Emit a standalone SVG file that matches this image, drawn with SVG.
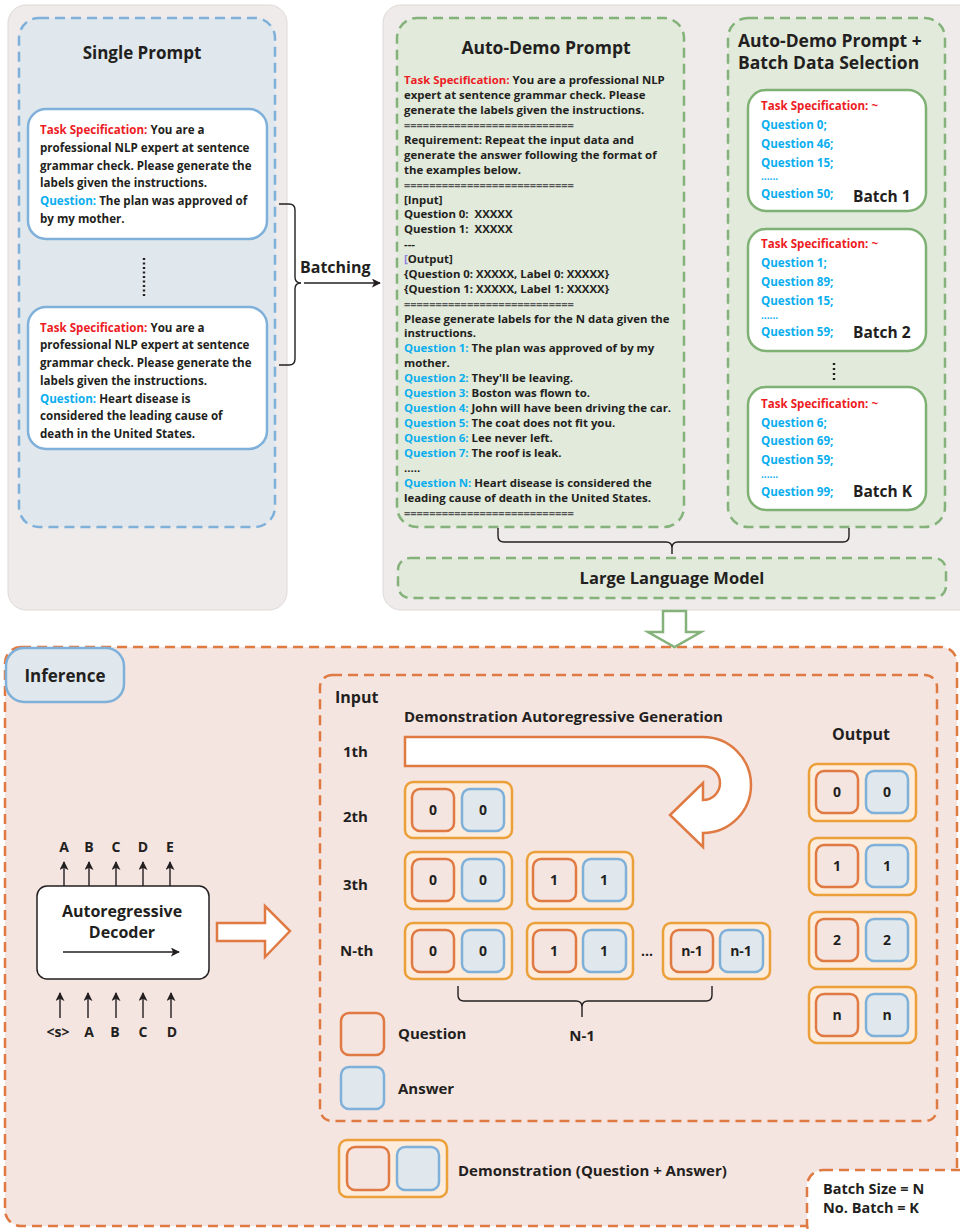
<svg xmlns="http://www.w3.org/2000/svg" width="960" height="1229" viewBox="0 0 960 1229">
<defs>
<style>
text{font-family:"Open Sans","Noto Sans","Liberation Sans",sans-serif;font-weight:700;fill:#231F20}
.panel{fill:#EEEBEA;stroke:#DEDAD8;stroke-width:1}
.bdash{fill:#E1E8ED;stroke:#7EB0DA;stroke-width:2.5;stroke-dasharray:10 6}
.gdash{fill:#E1EADB;stroke:#84B27A;stroke-width:2.5;stroke-dasharray:10 6}
.odash{fill:#F5E5E1;stroke:#E07A43;stroke-width:2.5;stroke-dasharray:10 6}
.bbox{fill:#fff;stroke:#7EB0DA;stroke-width:2.5}
.gbox{fill:#fff;stroke:#80B174;stroke-width:2.5}
.dg{fill:#FDEBDB;stroke:#EBA03A;stroke-width:2.5}
.q{fill:#F5E5E1;stroke:#E07A43;stroke-width:2.5}
.a{fill:#E1E8ED;stroke:#7EB0DA;stroke-width:2.5}
.red{fill:#ED1C24}
.blu{fill:#0AAEEF}
.t11{font-size:11.4px}
.t115{font-size:11.6px}
.dots{font-size:10px}
.num{font-size:14px;text-anchor:middle}
.lbl{font-size:15px}
.ln{fill:none;stroke:#231F20;stroke-width:1.4}
.eq{fill:#555;font-size:11px}
</style>
<marker id="ah" viewBox="0 0 10 10" refX="9" refY="5" markerWidth="9" markerHeight="9" markerUnits="userSpaceOnUse" orient="auto">
<path d="M0,0 L10,5 L0,10 L2.5,5 Z" fill="#231F20"/>
</marker>
</defs>

<!-- panels -->
<rect class="panel" x="8" y="5" width="279" height="605" rx="18"/>
<rect class="panel" x="383" y="5" width="600" height="605" rx="18"/>

<g id="single-prompt">
<rect class="bdash" x="19" y="18" width="256" height="509" rx="20"/>
<text x="142" y="59" font-size="17" text-anchor="middle">Single Prompt</text>
</g>

<g id="prompt-1">
<rect class="bbox" x="28" y="109" width="239" height="130" rx="18"/>
<text class="t115" x="40" y="134"><tspan class="red">Task Specification: </tspan>You are a</text>
<text class="t115" x="40" y="152">professional NLP expert at sentence</text>
<text class="t115" x="40" y="170">grammar check. Please generate the</text>
<text class="t115" x="40" y="187">labels given the instructions.</text>
<text class="t115" x="40" y="205"><tspan class="blu">Question: </tspan>The plan was approved of</text>
<text class="t115" x="40" y="223">by my mother.</text>
</g>

<line x1="144" y1="258" x2="144" y2="297" stroke="#231F20" stroke-width="2.4" stroke-dasharray="2 2.5"/>

<g id="prompt-2">
<rect class="bbox" x="28" y="307" width="239" height="142" rx="18"/>
<text class="t115" x="40" y="332"><tspan class="red">Task Specification: </tspan>You are a</text>
<text class="t115" x="40" y="349">professional NLP expert at sentence</text>
<text class="t115" x="40" y="367">grammar check. Please generate the</text>
<text class="t115" x="40" y="385">labels given the instructions.</text>
<text class="t115" x="40" y="403"><tspan class="blu">Question: </tspan>Heart disease is</text>
<text class="t115" x="40" y="420">considered the leading cause of</text>
<text class="t115" x="40" y="438">death in the United States.</text>
</g>

<g id="auto-demo-prompt">
<rect class="gdash" x="397" y="18" width="287" height="509" rx="20"/>
<text x="546" y="54" font-size="17.5" text-anchor="middle">Auto-Demo Prompt</text>
<text class="t11" x="404" y="84"><tspan class="red">Task Specification: </tspan>You are a professional NLP</text>
<text class="t11" x="404" y="99">expert at sentence grammar check. Please</text>
<text class="t11" x="404" y="114">generate the labels given the instructions.</text>
<text class="eq" x="404" y="129">===========================</text>
<text class="t11" x="404" y="144">Requirement: Repeat the input data and</text>
<text class="t11" x="404" y="159">generate the answer following the format of</text>
<text class="t11" x="404" y="174">the examples below.</text>
<text class="eq" x="404" y="189">===========================</text>
<text class="t11" x="404" y="204">[Input]</text>
<text class="t11" x="404" y="218">Question 0:&#160; XXXXX</text>
<text class="t11" x="404" y="233">Question 1:&#160; XXXXX</text>
<text class="t11" x="404" y="248">---</text>
<text class="t11" x="404" y="263"><tspan fill="#8B7FE0">[</tspan>Output]</text>
<text class="t11" x="404" y="278">{Question 0: XXXXX, Label 0: XXXXX}</text>
<text class="t11" x="404" y="293">{Question 1: XXXXX, Label 1: XXXXX}</text>
<text class="eq" x="404" y="308">===========================</text>
<text class="t11" x="404" y="323">Please generate labels for the N data given the</text>
<text class="t11" x="404" y="337">instructions.</text>
<text class="t11" x="404" y="352"><tspan class="blu">Question 1: </tspan>The plan was approved of by my</text>
<text class="t11" x="404" y="367">mother.</text>
<text class="t11" x="404" y="382"><tspan class="blu">Question 2: </tspan>They'll be leaving.</text>
<text class="t11" x="404" y="397"><tspan class="blu">Question 3: </tspan>Boston was flown to.</text>
<text class="t11" x="404" y="412"><tspan class="blu">Question 4: </tspan>John will have been driving the car.</text>
<text class="t11" x="404" y="427"><tspan class="blu">Question 5: </tspan>The coat does not fit you.</text>
<text class="t11" x="404" y="442"><tspan class="blu">Question 6: </tspan>Lee never left.</text>
<text class="t11" x="404" y="457"><tspan class="blu">Question 7: </tspan>The roof is leak.</text>
<text class="t11" x="404" y="472">.....</text>
<text class="t11" x="404" y="487"><tspan class="blu">Question N: </tspan>Heart disease is considered the</text>
<text class="t11" x="404" y="502">leading cause of death in the United States.</text>
<text class="eq" x="404" y="517">===========================</text>
</g>

<g id="batch-selection">
<rect class="gdash" x="728" y="18" width="217" height="509" rx="20"/>
<text x="738" y="47" font-size="17.5">Auto-Demo Prompt +</text>
<text x="738" y="69" font-size="17.5">Batch Data Selection</text>
</g>

<g id="batch-1">
<rect class="gbox" x="748" y="90" width="178" height="121" rx="18"/>
<text class="t115 red" x="761" y="110">Task Specification: ~</text>
<text class="t115 blu" x="761" y="129">Question 0;</text>
<text class="t115 blu" x="761" y="148">Question 46;</text>
<text class="t115 blu" x="761" y="167">Question 15;</text>
<text class="dots blu" x="761" y="180">......</text>
<text class="t115 blu" x="761" y="198">Question 50;</text>
<text x="853" y="202" font-size="15.5">Batch 1</text>
</g>

<g id="batch-2">
<rect class="gbox" x="748" y="229" width="178" height="122" rx="18"/>
<text class="t115 red" x="761" y="248">Task Specification: ~</text>
<text class="t115 blu" x="761" y="267">Question 1;</text>
<text class="t115 blu" x="761" y="286">Question 89;</text>
<text class="t115 blu" x="761" y="305">Question 15;</text>
<text class="dots blu" x="761" y="319">......</text>
<text class="t115 blu" x="761" y="336">Question 59;</text>
<text x="853" y="338" font-size="15.5">Batch 2</text>
</g>

<line x1="834" y1="363" x2="834" y2="381" stroke="#231F20" stroke-width="2.4" stroke-dasharray="2 3"/>

<g id="batch-k">
<rect class="gbox" x="748" y="387" width="178" height="123" rx="18"/>
<text class="t115 red" x="761" y="408">Task Specification: ~</text>
<text class="t115 blu" x="761" y="427">Question 6;</text>
<text class="t115 blu" x="761" y="445">Question 69;</text>
<text class="t115 blu" x="761" y="464">Question 59;</text>
<text class="dots blu" x="761" y="478">......</text>
<text class="t115 blu" x="761" y="496">Question 99;</text>
<text x="853" y="497" font-size="15.5">Batch K</text>
</g>

<g id="llm">
<rect class="gdash" x="398" y="558" width="548" height="40" rx="12"/>
<text x="672" y="584" font-size="16.5" text-anchor="middle">Large Language Model</text>
</g>

<!-- inference -->
<g id="inference">
<rect class="odash" x="5" y="647" width="952" height="579" rx="16"/>
<rect x="6" y="648" width="118" height="54" rx="18" fill="#E1E8ED" stroke="#7EB0DA" stroke-width="2.5"/>
<text x="65" y="682" font-size="17" text-anchor="middle">Inference</text>
</g>

<g id="decoder">
<rect x="37" y="886" width="172" height="93" rx="10" fill="#fff" stroke="#231F20" stroke-width="1.5"/>
<text x="122" y="917" font-size="16" text-anchor="middle">Autoregressive</text>
<text x="122" y="938" font-size="16" text-anchor="middle">Decoder</text>
<text font-size="14" text-anchor="middle" y="852"><tspan x="64">A</tspan><tspan x="89">B</tspan><tspan x="116">C</tspan><tspan x="143">D</tspan><tspan x="170">E</tspan></text>
<text font-size="14" text-anchor="middle" y="1037"><tspan x="58">&lt;s&gt;</tspan><tspan x="89">A</tspan><tspan x="115">B</tspan><tspan x="143">C</tspan><tspan x="172">D</tspan></text>
</g>

<g id="inner-input">
<rect class="odash" x="320" y="675" width="617" height="446" rx="12"/>
<text x="335" y="703" font-size="16">Input</text>
<text x="404" y="722" font-size="15">Demonstration Autoregressive Generation</text>
<text class="lbl" x="343" y="757">1th</text>
<text class="lbl" x="343" y="822">2th</text>
<text class="lbl" x="343" y="890">3th</text>
<text class="lbl" x="340" y="956">N-th</text>
<text x="861" y="740" font-size="16" text-anchor="middle">Output</text>
</g>

<path id="uturn" d="M405,737 L703,737 A48,48 0 0 1 703,833 L703,847 L670,815 L703,783 L703,800 A17,17 0 0 0 703,766 L405,766 Z" fill="#fff" stroke="#E07A43" stroke-width="2.5" stroke-linejoin="miter"/>

<g id="row-2">
<rect class="dg" x="405" y="782" width="107" height="56" rx="8"/>
<rect class="q" x="412" y="789" width="42" height="42" rx="8"/><text class="num" x="433" y="815">0</text>
<rect class="a" x="462" y="789" width="42" height="42" rx="8"/><text class="num" x="483" y="815">0</text>
</g>
<g id="row-3">
<rect class="dg" x="405" y="852" width="107" height="57" rx="8"/>
<rect class="q" x="412" y="859" width="42" height="42" rx="8"/><text class="num" x="433" y="885">0</text>
<rect class="a" x="462" y="859" width="42" height="42" rx="8"/><text class="num" x="483" y="885">0</text>
<rect class="dg" x="527" y="852" width="106" height="57" rx="8"/>
<rect class="q" x="533" y="859" width="43" height="42" rx="8"/><text class="num" x="554" y="885">1</text>
<rect class="a" x="583" y="859" width="43" height="42" rx="8"/><text class="num" x="604" y="885">1</text>
</g>
<g id="row-n">
<rect class="dg" x="405" y="923" width="107" height="56" rx="8"/>
<rect class="q" x="412" y="930" width="42" height="42" rx="8"/><text class="num" x="433" y="956">0</text>
<rect class="a" x="462" y="930" width="42" height="42" rx="8"/><text class="num" x="483" y="956">0</text>
<rect class="dg" x="527" y="923" width="106" height="56" rx="8"/>
<rect class="q" x="533" y="930" width="43" height="42" rx="8"/><text class="num" x="554" y="956">1</text>
<rect class="a" x="583" y="930" width="43" height="42" rx="8"/><text class="num" x="604" y="956">1</text>
<text x="647" y="956" font-size="14" text-anchor="middle">...</text>
<rect class="dg" x="663" y="923" width="107" height="56" rx="8"/>
<rect class="q" x="671" y="930" width="42" height="42" rx="8"/><text class="num" x="692" y="956">n-1</text>
<rect class="a" x="720" y="930" width="43" height="42" rx="8"/><text class="num" x="741" y="956">n-1</text>
</g>

<g id="output">
<rect class="dg" x="809" y="764" width="107" height="57" rx="8"/>
<rect class="q" x="816" y="771" width="42" height="42" rx="8"/><text class="num" x="837" y="797">0</text>
<rect class="a" x="866" y="771" width="42" height="42" rx="8"/><text class="num" x="887" y="797">0</text>
<rect class="dg" x="809" y="838" width="107" height="57" rx="8"/>
<rect class="q" x="816" y="845" width="42" height="42" rx="8"/><text class="num" x="837" y="871">1</text>
<rect class="a" x="866" y="845" width="42" height="42" rx="8"/><text class="num" x="887" y="871">1</text>
<rect class="dg" x="809" y="912" width="107" height="57" rx="8"/>
<rect class="q" x="816" y="919" width="42" height="42" rx="8"/><text class="num" x="837" y="945">2</text>
<rect class="a" x="866" y="919" width="42" height="42" rx="8"/><text class="num" x="887" y="945">2</text>
<rect class="dg" x="809" y="987" width="107" height="56" rx="8"/>
<rect class="q" x="816" y="994" width="42" height="42" rx="8"/><text class="num" x="837" y="1020">n</text>
<rect class="a" x="866" y="994" width="42" height="42" rx="8"/><text class="num" x="887" y="1020">n</text>
</g>

<g id="legend">
<rect class="q" x="341" y="1013" width="43" height="42" rx="8"/>
<text class="lbl" x="398" y="1039">Question</text>
<rect class="a" x="341" y="1067" width="43" height="42" rx="8"/>
<text class="lbl" x="398" y="1094">Answer</text>
<text class="lbl" x="582" y="1041" text-anchor="middle">N-1</text>
<rect class="dg" x="339" y="1140" width="108" height="57" rx="8"/>
<rect class="q" x="347" y="1147" width="42" height="43" rx="8"/>
<rect class="a" x="397" y="1147" width="42" height="43" rx="8"/>
<text class="lbl" x="458" y="1176">Demonstration (Question + Answer)</text>
</g>

<g id="batch-info">
<rect x="807" y="1170" width="170" height="70" rx="16" fill="#fff" stroke="#E07A43" stroke-width="2.5" stroke-dasharray="10 6"/>
<text x="823" y="1194" font-size="14.5">Batch Size = N</text>
<text x="823" y="1213" font-size="14.5">No. Batch = K</text>
</g>

<g id="connectors">
<path class="ln" d="M279,204 H289 Q295,204 295,210 V277 Q295,283 301,283 Q295,283 295,289 V359 Q295,365 289,365 H279"/>
<line class="ln" x1="304" y1="283" x2="380" y2="283" marker-end="url(#ah)"/>
<text x="300" y="273" font-size="16">Batching</text>
<path class="ln" d="M498,528 V536 Q498,542 504,542 H666 Q672,542 672,548 V554 M672,548 Q672,542 678,542 H843 Q849,542 849,536 V528"/>
<polygon points="663,611 686,611 686,632 701,632 674.5,647 648,632 663,632" fill="#fff" stroke="#84B27A" stroke-width="2.5"/>
<line class="ln" x1="64" y1="886" x2="64" y2="862" marker-end="url(#ah)"/>
<line class="ln" x1="89" y1="886" x2="89" y2="862" marker-end="url(#ah)"/>
<line class="ln" x1="116" y1="886" x2="116" y2="862" marker-end="url(#ah)"/>
<line class="ln" x1="143" y1="886" x2="143" y2="862" marker-end="url(#ah)"/>
<line class="ln" x1="170" y1="886" x2="170" y2="862" marker-end="url(#ah)"/>
<line class="ln" x1="60" y1="1018" x2="60" y2="993" marker-end="url(#ah)"/>
<line class="ln" x1="88" y1="1018" x2="88" y2="993" marker-end="url(#ah)"/>
<line class="ln" x1="116" y1="1018" x2="116" y2="993" marker-end="url(#ah)"/>
<line class="ln" x1="143" y1="1018" x2="143" y2="993" marker-end="url(#ah)"/>
<line class="ln" x1="171" y1="1018" x2="171" y2="993" marker-end="url(#ah)"/>
<line class="ln" x1="63" y1="952" x2="179" y2="952" marker-end="url(#ah)"/>
<polygon points="217,923 265,923 265,906 290,931 265,957 265,941 217,941" fill="#fff" stroke="#E07A43" stroke-width="2.5"/>
<path class="ln" d="M458,986 V995 Q458,1001 464,1001 H576 Q582,1001 582,1007 V1017 M582,1007 Q582,1001 588,1001 H706 Q712,1001 712,995 V986"/>
</g>
</svg>
